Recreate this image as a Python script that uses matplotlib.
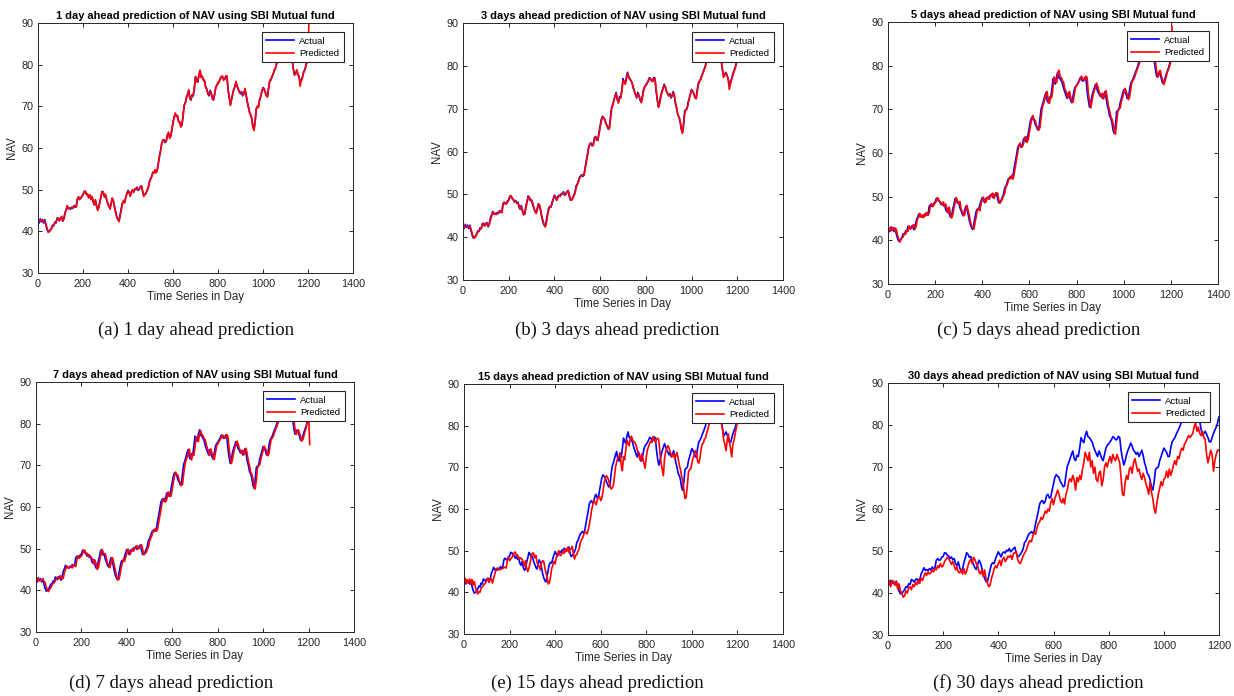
import numpy as np
import matplotlib
matplotlib.use("Agg")
import matplotlib.pyplot as plt

plt.rcParams['font.family'] = ['Liberation Sans', 'DejaVu Sans']

# ---------------- data (values read every 5 days) ----------------
day_step = 5

actual = [
    42.5, 42.0, 43.0, 42.3, 42.8, 42.0, 42.8, 41.5, 40.5, 39.8,
    40.0, 40.3, 40.8, 41.5, 41.3, 42.2, 42.0, 43.2, 43.0, 42.6,
    43.2, 43.4, 42.4, 43.2, 44.5, 45.2, 46.0, 45.4, 45.6, 45.3,
    45.8, 45.5, 46.2, 45.8, 46.0, 47.8, 48.2, 47.8, 47.9, 48.5,
    48.7, 49.6, 49.5, 49.0, 48.8, 48.2, 48.6, 47.9, 48.2, 47.0,
    46.5, 47.4, 46.0, 45.3, 45.6, 47.2, 48.3, 49.6, 49.2, 48.5,
    48.7, 47.5, 46.8, 46.0, 45.6, 46.8, 47.8, 47.2, 46.0, 44.5,
    43.5, 42.8, 42.5, 44.0, 45.5, 46.8, 47.2, 47.0, 48.2, 49.0,
    49.8, 49.2, 48.6, 49.5, 49.8, 49.5, 50.2, 50.0, 50.6, 49.8,
    50.2, 50.6, 50.9, 49.5, 48.6, 48.8, 49.2, 49.8, 50.5, 52.0,
    52.4, 53.2, 54.0, 54.3, 54.6, 54.2, 54.8, 56.5, 58.0, 59.5,
    61.2, 61.8, 62.0, 61.3, 61.8, 63.2, 63.5, 62.6, 62.8, 64.5,
    66.0, 67.5, 68.2, 67.8, 67.5, 66.5, 66.0, 65.3, 65.5, 68.0,
    70.2, 71.0, 72.0, 73.0, 73.8, 72.0, 71.5, 72.8, 72.5, 74.5,
    77.0, 76.2, 75.8, 77.5, 78.5, 77.2, 77.0, 76.5, 76.0, 74.8,
    74.0, 73.2, 72.5, 73.8, 73.0, 72.0, 71.5, 73.0, 74.5, 75.2,
    75.5, 76.0, 76.5, 77.2, 77.0, 76.5, 76.5, 77.3, 77.0, 74.0,
    72.0, 70.5, 71.5, 73.0, 74.0, 74.8, 75.7, 75.0, 74.0, 73.6,
    73.0, 73.5, 72.5, 73.2, 74.0, 72.8, 71.0, 70.0, 68.5, 68.0,
    67.0, 65.2, 64.5, 66.5, 69.5, 69.8, 70.0, 71.5, 72.5, 73.5,
    74.5, 74.0, 73.5, 72.5, 72.5, 74.5, 76.0, 76.5, 77.0, 77.8,
    78.5, 79.2, 80.0, 81.0, 82.0, 83.0, 84.0, 84.5, 85.0, 85.5,
    85.0, 84.5, 84.0, 83.5, 83.0, 82.0, 81.0, 79.0, 77.5, 78.0,
    78.5, 77.8, 77.0, 76.0, 76.0, 77.0, 78.0, 78.8, 79.5, 80.5,
    82.0, 82.2,
]

pred_1 = [
    42.3, 42.5, 42.6, 42.8, 42.4, 42.5, 42.3, 41.8, 40.8, 40.0,
    39.9, 40.4, 40.6, 41.3, 41.6, 41.9, 42.3, 42.8, 43.2, 42.5,
    43.0, 43.6, 42.6, 42.9, 44.2, 45.0, 46.2, 45.6, 45.4, 45.6,
    45.6, 45.8, 45.9, 46.1, 45.8, 47.5, 48.3, 47.6, 48.1, 48.3,
    48.9, 49.3, 49.7, 48.8, 49.0, 48.0, 48.8, 47.6, 48.4, 47.3,
    46.3, 47.6, 46.3, 45.0, 45.8, 46.9, 48.5, 49.4, 49.5, 48.2,
    48.9, 47.8, 46.5, 46.3, 45.3, 46.5, 48.0, 47.5, 45.8, 44.8,
    43.3, 43.1, 42.3, 43.7, 45.2, 46.5, 47.4, 46.8, 48.0, 49.2,
    49.6, 49.5, 48.4, 49.3, 50.0, 49.3, 50.0, 50.3, 50.4, 50.1,
    50.0, 50.8, 50.7, 49.8, 48.4, 49.0, 49.0, 50.0, 50.2, 51.7,
    52.6, 53.0, 54.2, 54.0, 54.8, 54.0, 54.6, 56.2, 58.2, 59.2,
    61.0, 62.0, 61.7, 61.6, 61.5, 63.0, 63.8, 62.3, 63.0, 64.2,
    66.2, 67.2, 68.4, 67.5, 67.8, 66.2, 66.3, 65.0, 65.8, 67.6,
    70.4, 70.7, 72.3, 72.7, 74.0, 71.7, 71.8, 72.5, 72.8, 74.2,
    77.2, 75.9, 76.1, 77.2, 78.7, 76.9, 77.3, 76.2, 76.3, 74.5,
    74.3, 72.9, 72.8, 73.5, 73.3, 71.7, 71.8, 72.7, 74.7, 74.9,
    75.8, 75.7, 76.8, 76.9, 77.3, 76.2, 76.8, 77.0, 77.3, 73.7,
    72.3, 70.2, 71.8, 72.7, 74.3, 74.5, 76.0, 74.7, 74.3, 73.3,
    73.3, 73.2, 72.8, 72.9, 74.3, 72.5, 71.3, 69.7, 68.8, 67.7,
    67.3, 64.9, 64.2, 66.2, 69.2, 70.1, 69.7, 71.8, 72.2, 73.8,
    74.2, 74.3, 73.2, 72.8, 72.2, 74.2, 76.3, 76.2, 77.3, 77.5,
    78.8, 78.9, 80.3, 80.7, 82.3, 82.7, 84.3, 84.2, 85.3, 85.2,
    85.3, 84.2, 84.3, 83.2, 83.3, 81.7, 81.3, 78.7, 77.8, 77.7,
    78.8, 77.5, 77.3, 74.8, 76.3, 76.7, 78.3, 78.5, 79.8, 80.8,
    82.5, 92.0,
]

pred_3 = [
    42.6, 42.2, 42.7, 42.6, 42.5, 42.3, 42.5, 41.9, 40.9, 40.1,
    39.8, 40.1, 40.6, 41.2, 41.5, 41.8, 42.2, 42.9, 43.3, 42.7,
    42.9, 43.3, 42.7, 42.9, 44.0, 44.9, 45.8, 45.7, 45.3, 45.5,
    45.5, 45.7, 45.9, 46.1, 45.7, 47.3, 48.1, 47.9, 47.7, 48.2,
    48.6, 49.4, 49.7, 49.2, 48.7, 48.3, 48.4, 48.0, 48.0, 47.4,
    46.6, 47.1, 46.5, 45.2, 45.4, 46.7, 48.0, 49.3, 49.4, 48.7,
    48.5, 48.0, 46.9, 46.1, 45.5, 46.3, 47.6, 47.6, 46.3, 44.8,
    43.8, 42.9, 42.4, 43.4, 45.1, 46.4, 47.0, 47.2, 47.8, 48.8,
    49.5, 49.5, 48.8, 49.1, 49.7, 49.7, 49.9, 50.2, 50.3, 50.1,
    49.9, 50.5, 50.8, 50.0, 48.8, 48.6, 49.0, 49.6, 50.2, 51.5,
    52.2, 52.9, 53.8, 54.1, 54.4, 54.4, 54.5, 56.0, 57.6, 59.1,
    60.8, 61.6, 62.0, 61.6, 61.4, 62.8, 63.4, 62.9, 62.6, 64.0,
    65.6, 67.1, 68.0, 68.0, 67.4, 66.7, 66.1, 65.5, 65.2, 67.3,
    69.8, 70.8, 71.7, 72.8, 73.5, 72.4, 71.3, 72.4, 72.6, 74.0,
    76.5, 76.4, 75.7, 77.0, 78.2, 77.6, 76.8, 76.6, 75.9, 75.0,
    74.1, 73.4, 72.6, 73.4, 73.2, 72.2, 71.4, 72.6, 74.2, 75.0,
    75.4, 75.8, 76.3, 77.0, 77.1, 76.6, 76.3, 77.0, 77.1, 74.5,
    72.4, 70.3, 71.1, 72.6, 73.7, 74.6, 75.4, 75.2, 74.2, 73.5,
    73.0, 73.3, 72.7, 72.9, 73.7, 73.1, 71.3, 70.2, 68.6, 68.1,
    67.2, 65.5, 64.2, 65.9, 68.9, 69.8, 69.9, 71.2, 72.4, 73.3,
    74.3, 74.1, 73.6, 72.6, 72.3, 74.0, 75.7, 76.4, 76.8, 77.6,
    78.3, 79.0, 79.8, 80.8, 81.7, 82.8, 83.7, 84.4, 84.8, 85.3,
    85.1, 84.6, 84.1, 83.6, 83.1, 82.2, 81.2, 79.4, 77.3, 77.8,
    78.3, 77.9, 76.8, 74.5, 75.8, 76.8, 77.7, 78.6, 79.2, 80.3,
    81.7, 82.0,
]

pred_5 = [
    42.8, 42.6, 42.1, 43.1, 42.4, 42.9, 42.1, 42.6, 41.3, 40.4,
    39.6, 40.1, 40.5, 40.9, 41.7, 41.4, 42.4, 42.1, 43.3, 42.8,
    42.7, 43.4, 43.6, 42.6, 43.4, 44.8, 45.5, 46.2, 45.3, 45.8,
    45.2, 46.0, 45.6, 46.4, 45.7, 46.3, 48.1, 48.4, 47.7, 48.1,
    48.6, 48.9, 49.8, 49.3, 48.8, 48.6, 48.1, 48.8, 47.8, 48.3,
    46.9, 46.3, 47.6, 45.8, 45.1, 45.9, 47.5, 48.6, 49.8, 49.0,
    48.3, 48.9, 47.2, 46.6, 45.7, 45.8, 47.1, 48.0, 46.8, 45.7,
    44.2, 43.2, 43.0, 42.6, 44.3, 45.7, 47.1, 47.4, 46.8, 48.5,
    49.3, 49.9, 48.9, 48.7, 49.8, 49.9, 49.4, 50.5, 50.1, 50.8,
    49.6, 50.4, 50.9, 50.8, 49.2, 48.5, 48.9, 49.5, 50.1, 50.8,
    52.3, 52.6, 53.5, 54.3, 54.1, 54.9, 54.0, 55.1, 56.8, 58.4,
    60.0, 61.6, 62.3, 61.8, 61.4, 62.1, 63.6, 63.8, 62.4, 63.1,
    64.8, 66.4, 67.9, 68.6, 67.6, 67.4, 66.3, 65.8, 65.2, 65.9,
    68.4, 70.6, 71.2, 72.3, 73.4, 74.1, 71.8, 71.4, 73.1, 72.8,
    75.0, 77.4, 76.5, 76.1, 77.9, 79.0, 77.6, 77.3, 76.6, 76.2,
    74.6, 74.2, 73.0, 72.7, 74.1, 72.8, 71.8, 71.6, 73.3, 74.8,
    75.5, 75.8, 76.3, 76.8, 77.6, 77.2, 76.7, 76.8, 77.6, 77.2,
    73.6, 71.8, 70.3, 71.8, 73.3, 74.3, 75.0, 76.0, 75.2, 74.1,
    73.5, 72.8, 73.7, 72.4, 73.5, 74.3, 72.5, 70.8, 69.8, 68.4,
    67.8, 66.7, 65.0, 64.3, 66.9, 69.6, 70.2, 70.3, 71.8, 72.7,
    73.8, 74.8, 74.2, 73.3, 72.2, 72.8, 74.8, 76.3, 76.7, 77.2,
    78.1, 78.8, 79.5, 80.3, 81.4, 82.3, 83.4, 84.3, 84.8, 85.3,
    85.7, 84.8, 84.2, 83.8, 83.3, 82.8, 81.6, 80.7, 78.6, 77.3,
    78.6, 78.9, 77.6, 76.8, 75.7, 76.4, 77.4, 78.5, 79.1, 80.0,
    81.0, 89.0,
]

pred_7 = [
    42.2, 42.9, 42.3, 42.7, 42.6, 42.3, 42.7, 42.2, 41.9, 40.8,
    40.2, 39.7, 40.3, 40.6, 41.3, 41.6, 41.8, 42.3, 42.8, 43.2,
    42.8, 43.0, 43.5, 42.7, 42.9, 44.3, 45.0, 45.9, 45.5, 45.4,
    45.5, 45.8, 45.4, 46.0, 46.1, 45.7, 47.4, 48.3, 47.7, 48.0,
    48.2, 48.8, 49.7, 49.6, 48.8, 48.9, 48.1, 48.5, 48.0, 47.9,
    47.2, 46.3, 47.2, 46.3, 45.0, 45.5, 47.0, 48.3, 49.8, 49.3,
    48.6, 48.8, 47.6, 46.5, 46.2, 45.4, 46.4, 47.9, 47.4, 45.8,
    44.7, 43.3, 42.6, 42.6, 43.8, 45.4, 46.6, 47.5, 47.0, 48.0,
    49.0, 49.9, 49.3, 48.6, 49.4, 50.0, 49.4, 50.3, 50.1, 50.7,
    50.0, 50.1, 50.7, 50.9, 49.7, 48.5, 48.8, 49.1, 49.8, 50.4,
    51.8, 52.5, 53.1, 54.2, 54.1, 54.8, 54.2, 54.6, 56.3, 57.8,
    59.3, 61.0, 61.9, 62.1, 61.2, 61.6, 63.2, 63.6, 62.5, 62.7,
    64.3, 65.8, 67.6, 68.4, 67.7, 67.6, 66.4, 65.9, 65.1, 65.4,
    67.9, 70.0, 71.2, 71.9, 73.1, 73.9, 72.1, 71.3, 72.9, 72.4,
    74.3, 76.8, 76.4, 75.7, 77.6, 78.4, 77.3, 77.2, 76.4, 76.1,
    74.9, 74.0, 73.1, 72.4, 73.9, 72.9, 71.9, 71.4, 73.0, 74.6,
    75.1, 75.6, 76.1, 76.6, 77.3, 77.1, 76.6, 76.6, 77.4, 76.9,
    74.0, 71.9, 70.4, 71.4, 73.1, 74.2, 74.9, 75.8, 75.1, 74.0,
    73.6, 72.9, 73.6, 72.5, 73.3, 74.1, 72.7, 70.9, 69.9, 68.3,
    67.9, 66.9, 65.0, 64.3, 66.4, 69.3, 69.9, 70.1, 71.5, 72.6,
    73.6, 74.6, 74.0, 73.4, 72.3, 72.6, 74.6, 76.1, 76.6, 77.0,
    77.9, 78.6, 79.3, 80.1, 81.1, 82.1, 83.1, 84.1, 84.6, 85.1,
    85.6, 84.9, 84.4, 83.9, 83.4, 82.9, 81.9, 80.9, 78.9, 77.4,
    77.9, 78.5, 77.7, 76.9, 75.8, 76.2, 77.2, 78.2, 79.0, 82.0,
    82.5, 75.0,
]

pred_15 = [
    42.8, 43.4, 42.1, 43.0, 42.2, 43.2, 42.0, 43.1, 41.8, 42.6,
    41.3, 40.3, 39.6, 40.2, 40.0, 41.0, 41.3, 41.6, 42.0, 42.3,
    43.0, 43.3, 42.4, 43.4, 43.2, 42.2, 43.4, 44.3, 45.4, 45.8,
    45.6, 45.4, 45.5, 45.6, 45.7, 46.0, 46.0, 45.8, 47.6, 48.4,
    47.6, 48.1, 48.3, 48.9, 49.4, 49.7, 48.8, 49.0, 48.0, 48.4,
    48.1, 48.0, 47.2, 46.3, 47.6, 45.8, 45.0, 45.8, 47.0, 48.5,
    49.4, 49.4, 48.3, 48.9, 47.3, 46.6, 46.2, 45.4, 47.0, 47.6,
    47.4, 45.8, 44.7, 43.3, 42.0, 42.3, 43.8, 45.7, 46.6, 47.4,
    46.8, 48.4, 48.8, 50.0, 49.0, 48.8, 49.3, 50.0, 49.3, 50.4,
    49.8, 50.8, 49.6, 50.4, 50.4, 51.0, 49.3, 48.0, 48.9, 49.0,
    49.9, 50.3, 51.8, 52.6, 53.0, 53.8, 54.5, 54.4, 54.0, 55.0,
    56.3, 57.8, 59.7, 61.0, 62.0, 61.6, 61.0, 62.2, 62.8, 63.0,
    62.0, 62.6, 64.2, 66.2, 67.3, 68.0, 67.6, 66.8, 65.8, 64.8,
    65.0, 65.6, 67.6, 70.0, 71.3, 72.2, 72.7, 73.5, 70.5, 69.2,
    72.6, 71.8, 74.2, 76.5, 75.8, 75.2, 77.0, 77.5, 76.6, 76.2,
    76.0, 75.3, 74.2, 73.5, 72.3, 71.5, 73.2, 72.2, 70.8, 69.8,
    72.5, 74.2, 75.0, 75.8, 76.3, 76.0, 77.4, 76.8, 76.0, 76.8,
    77.0, 76.6, 73.5, 71.0, 69.5, 68.0, 72.0, 73.8, 74.5, 75.2,
    74.6, 73.6, 73.0, 72.6, 73.3, 72.0, 72.8, 73.6, 72.0, 70.5,
    69.5, 67.8, 66.8, 64.5, 62.5, 62.8, 65.5, 68.8, 69.5, 69.6,
    71.0, 72.2, 73.0, 74.0, 73.5, 71.5, 71.0, 72.0, 74.2, 75.5,
    75.8, 76.8, 77.0, 78.2, 79.0, 80.2, 81.0, 81.5, 82.8, 83.5,
    84.0, 84.8, 85.3, 84.6, 84.2, 83.5, 80.5, 79.0, 76.5, 75.5,
    74.0, 76.5, 78.0, 76.0, 74.5, 72.5, 75.5, 76.5, 78.0, 79.5,
    81.0, 81.5,
]

pred_30 = [
    42.0, 43.0, 41.5, 43.0, 42.5, 41.8, 42.8, 41.0, 42.2, 40.5,
    40.0, 39.0, 39.3, 40.5, 40.0, 41.2, 41.5, 40.8, 42.0, 41.5,
    42.5, 42.0, 43.2, 42.3, 43.5, 43.0, 44.0, 44.8, 44.2, 45.0,
    44.5, 44.8, 45.5, 45.0, 45.8, 45.5, 46.5, 46.0, 47.0, 46.2,
    46.5, 47.5, 48.0, 48.5, 48.2, 47.5, 46.8, 47.5, 46.5, 45.5,
    46.2, 45.0, 44.8, 45.5, 44.5, 45.8, 44.5, 45.2, 46.5, 47.5,
    48.0, 47.0, 48.5, 48.0, 47.0, 46.5, 45.0, 44.5, 45.5, 44.0,
    45.5, 43.5, 42.5, 41.5, 41.8, 43.5, 44.5, 45.8, 46.5, 46.0,
    47.0, 47.8, 46.5, 48.0, 48.5, 47.5, 48.0, 48.8, 48.5, 49.0,
    48.0, 49.5, 49.5, 49.8, 48.0, 47.2, 47.0, 48.0, 48.8, 49.5,
    50.0, 51.0, 52.0, 52.5, 52.2, 53.5, 54.5, 54.0, 55.5, 56.5,
    57.0, 58.0, 57.5, 58.5, 59.5, 59.0, 60.0, 59.5, 61.5, 62.5,
    61.0, 62.5, 63.5, 64.5, 63.5, 62.0, 61.5, 62.5, 61.2, 63.5,
    64.5, 66.5, 67.2, 66.5, 68.0, 67.0, 64.5, 67.5, 66.5, 68.0,
    67.0, 69.5, 71.0, 73.5, 72.5, 71.5, 73.5, 70.0, 71.5, 68.5,
    70.0, 67.0, 66.5, 68.5, 69.0, 65.5, 67.0, 70.0, 71.0, 70.0,
    71.5, 72.5, 71.0, 73.0, 72.0, 71.5, 73.0, 72.0, 71.0, 67.5,
    63.5, 63.2, 66.5, 68.0, 67.0, 69.5, 70.0, 68.5, 71.0, 72.0,
    70.5, 69.0, 69.5, 68.0, 67.0, 68.5, 67.5, 66.0, 65.0, 63.5,
    66.5, 64.0, 62.5, 60.0, 59.0, 61.5, 63.5, 65.0, 66.5, 65.5,
    67.0, 67.5, 69.0, 67.5, 69.5, 68.0, 69.0, 70.5, 71.5, 70.5,
    72.5, 72.0, 73.5, 74.5, 74.0, 75.5, 76.0, 76.8, 77.5, 77.0,
    77.5, 78.0, 79.5, 80.5, 78.5, 79.5, 78.0, 77.5, 78.5, 77.0,
    76.5, 73.0, 71.0, 72.5, 74.0, 73.0, 69.0, 71.5, 73.0, 74.0,
    74.0, 74.5,
]

panel_titles = [
    "1 day ahead prediction of NAV using SBI Mutual fund",
    "3 days ahead prediction of NAV using SBI Mutual fund",
    "5 days ahead prediction of NAV using SBI Mutual fund",
    "7 days ahead prediction of NAV using SBI Mutual fund",
    "15 days ahead prediction of NAV using SBI Mutual fund",
    "30 days ahead prediction of NAV using SBI Mutual fund",
]
captions = [
    "(a) 1 day ahead prediction",
    "(b) 3 days ahead prediction",
    "(c) 5 days ahead prediction",
    "(d) 7 days ahead prediction",
    "(e) 15 days ahead prediction",
    "(f) 30 days ahead prediction",
]
predictions = [pred_1, pred_3, pred_5, pred_7, pred_15, pred_30]
x_max = [1400, 1400, 1400, 1400, 1400, 1200]
series_names = ["Actual", "Predicted"]
y_ticks = [30, 40, 50, 60, 70, 80, 90]

# ---------------- layout (pixel boxes: x0, x1, y_top, y_bottom) ----------------
W, H = 1234, 696
boxes = [
    (38, 353, 23, 273),
    (463, 783, 23, 280),
    (888, 1218, 22, 284),
    (36, 354, 382, 632),
    (464, 783, 384, 634),
    (888, 1219, 383, 635),
]
caption_pos = [(196, 330), (617, 330), (1039, 330), (171, 683), (597, 683), (1038, 683)]

fig = plt.figure(figsize=(W / 100, H / 100), dpi=100)
tick_col = "#262626"

for k in range(6):
    x0, x1, yt, yb = boxes[k]
    ax = fig.add_axes([x0 / W, 1 - yb / H, (x1 - x0) / W, (yb - yt) / H])
    act = np.array(actual)
    pr = np.array(predictions[k])
    days = np.arange(len(act)) * day_step
    ax.plot(days, act, color=(0, 0, 1), lw=1.2, label=series_names[0])
    ax.plot(days, pr, color=(1, 0, 0), lw=1.2, label=series_names[1])
    ax.set_xlim(0, x_max[k])
    ax.set_ylim(30, 90)
    ax.set_yticks(y_ticks)
    ax.tick_params(direction="in", top=True, right=True, labelsize=7.8,
                   colors=tick_col, length=3, width=0.7)
    ax.tick_params(axis="x", pad=4)
    ax.tick_params(axis="y", pad=3)
    for s in ax.spines.values():
        s.set_color(tick_col)
        s.set_linewidth(0.7)
    ax.set_title(panel_titles[k], fontsize=7.9, fontweight="bold",
                 color="black", pad=3)
    ax.set_xlabel("Time Series in Day", fontsize=8.3, color=tick_col, labelpad=2)
    ax.set_ylabel("NAV", fontsize=8.3, color=tick_col, labelpad=3)
    leg = ax.legend(loc="upper right", fontsize=6.8, frameon=True, fancybox=False,
                    handlelength=2.9, borderpad=0.45, labelspacing=0.35,
                    handletextpad=0.6, borderaxespad=1.0, framealpha=1)
    leg.get_frame().set_edgecolor(tick_col)
    leg.get_frame().set_linewidth(0.8)
    cx, cy = caption_pos[k]
    fig.text(cx / W, 1 - cy / H, captions[k], ha="center", va="center",
             fontsize=13.5, family="Liberation Serif", color="#111111")

fig.savefig("out.png", dpi=100)
